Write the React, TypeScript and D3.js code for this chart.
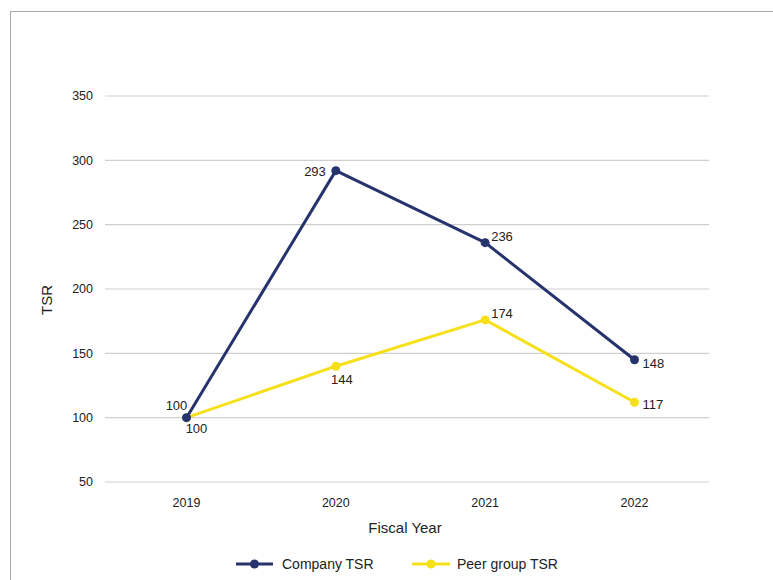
import React from "react";
import * as d3 from "d3";

const years = ["2019", "2020", "2021", "2022"];
const companyValues = [100, 292, 236, 145];
const peerValues = [100, 140, 176, 112];
const companyLabels = ["100", "293", "236", "148"];
const peerLabels = ["100", "144", "174", "117"];
const yTicks = [50, 100, 150, 200, 250, 300, 350];

const W = 773;
const H = 580;
const NAVY = "#27336d";
const YELLOW = "#f6e01a";
const FONT = "'Liberation Sans', Arial, Helvetica, sans-serif";

export default function App() {
  const x = d3.scalePoint<string>().domain(years).range([186.5, 634.5]);
  const y = d3.scaleLinear().domain([50, 350]).range([482, 96]);
  const line = d3
    .line<number>()
    .x((_, i) => x(years[i]) as number)
    .y((d) => y(d));

  // label offsets per point: [dx, dy, anchor]
  const companyOff: [number, number, string][] = [
    [-10, -12, "middle"],
    [-10, 1, "end"],
    [6, -6, "start"],
    [8, 4, "start"],
  ];
  const peerOff: [number, number, string][] = [
    [10, 11, "middle"],
    [6, 13, "middle"],
    [6, -6, "start"],
    [8, 2, "start"],
  ];

  return (
    <svg
      width={W}
      height={H}
      style={{ position: "absolute", left: 0, top: 0, background: "#fff" }}
      fontFamily={FONT}
    >
      <rect x={10.5} y={11.5} width={W + 20} height={H + 20} fill="#fff" stroke="#a9a9a9" strokeWidth={1} />
      {yTicks.map((t) => (
        <g key={t}>
          <line x1={105} x2={709} y1={y(t)} y2={y(t)} stroke="#cfcfcf" strokeWidth={1.2} />
          <text x={93} y={y(t)} dy="0.35em" textAnchor="end" fontSize={12.5} fill="#222">
            {t}
          </text>
        </g>
      ))}
      {years.map((yr) => (
        <text key={yr} x={x(yr)} y={503} dy="0.35em" textAnchor="middle" fontSize={12.5} fill="#222">
          {yr}
        </text>
      ))}
      <text x={405} y={528} dy="0.35em" textAnchor="middle" fontSize={15} fill="#222">
        Fiscal Year
      </text>
      <text
        transform={`translate(47,300) rotate(-90)`}
        dy="0.35em"
        textAnchor="middle"
        fontSize={15}
        fill="#222"
      >
        TSR
      </text>

      <path d={line(peerValues) || ""} fill="none" stroke={YELLOW} strokeWidth={3} strokeLinejoin="round" />
      {peerValues.map((v, i) => (
        <circle key={"p" + i} cx={x(years[i])} cy={y(v)} r={4.5} fill={YELLOW} />
      ))}
      <path d={line(companyValues) || ""} fill="none" stroke={NAVY} strokeWidth={3} strokeLinejoin="round" />
      {companyValues.map((v, i) => (
        <circle key={"c" + i} cx={x(years[i])} cy={y(v)} r={4.5} fill={NAVY} />
      ))}

      {companyValues.map((v, i) => (
        <text
          key={"cl" + i}
          x={(x(years[i]) as number) + companyOff[i][0]}
          y={y(v) + companyOff[i][1]}
          dy="0.35em"
          textAnchor={companyOff[i][2] as any}
          fontSize={13}
          fill="#222"
        >
          {companyLabels[i]}
        </text>
      ))}
      {peerValues.map((v, i) => (
        <text
          key={"pl" + i}
          x={(x(years[i]) as number) + peerOff[i][0]}
          y={y(v) + peerOff[i][1]}
          dy="0.35em"
          textAnchor={peerOff[i][2] as any}
          fontSize={13}
          fill="#222"
        >
          {peerLabels[i]}
        </text>
      ))}

      {/* legend */}
      <g>
        <line x1={236} x2={273} y1={564} y2={564} stroke={NAVY} strokeWidth={3} />
        <circle cx={254.5} cy={564} r={4.5} fill={NAVY} />
        <text x={282} y={564} dy="0.35em" fontSize={14} fill="#222">
          Company TSR
        </text>
        <line x1={412} x2={450} y1={564} y2={564} stroke={YELLOW} strokeWidth={3} />
        <circle cx={431} cy={564} r={4.5} fill={YELLOW} />
        <text x={457} y={564} dy="0.35em" fontSize={14} fill="#222">
          Peer group TSR
        </text>
      </g>
    </svg>
  );
}
